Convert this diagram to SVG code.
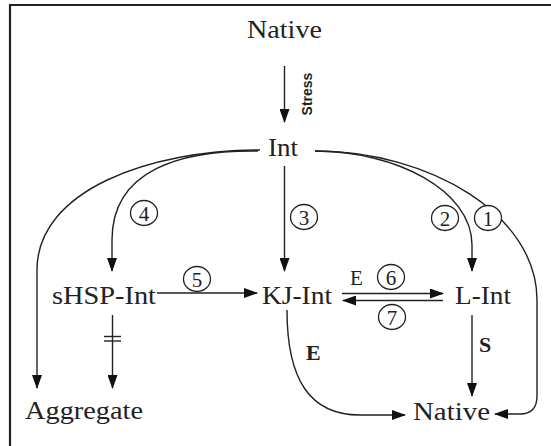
<svg xmlns="http://www.w3.org/2000/svg" width="551" height="446" viewBox="0 0 551 446">
<style>
.node{font-family:"Liberation Serif","Times New Roman",serif;font-size:25px;fill:#222}
.num{font-family:"Liberation Serif","Times New Roman",serif;font-size:21px;fill:#222;text-anchor:middle}
.lbl{font-family:"Liberation Serif","Times New Roman",serif;font-size:21px;fill:#222}
.bold{font-weight:bold;font-size:22px}
.c{fill:none;stroke:#222;stroke-width:1.4}
.ring{fill:#fff;stroke:#222;stroke-width:1.3}
.frame{stroke:#222;stroke-width:2.2}
</style>
<defs>
<marker id="ah" markerUnits="userSpaceOnUse" markerWidth="14" markerHeight="10" refX="13" refY="5" orient="auto" viewBox="0 0 14 10">
<path d="M0,0 L14,5 L0,10 Z" fill="#111"/>
</marker>
</defs>
<rect width="551" height="446" fill="#fff"/>
<line class="frame" x1="9" y1="5" x2="551" y2="5"/>
<line class="frame" x1="10" y1="4" x2="10" y2="446"/>

<g id="connectors">
<line class="c" x1="284.5" y1="66" x2="284.5" y2="122" marker-end="url(#ah)"/>
<text transform="translate(312,94) rotate(-90)" text-anchor="middle" style="font-family:'Liberation Sans',Arial,sans-serif;font-size:14px;font-weight:bold;fill:#222">Stress</text>
<path class="c" d="M260,150 C150,150 37,190 37,270 L37,388" marker-end="url(#ah)"/>
<path class="c" d="M258,151 C180,150 112,170 112,240 L112,271" marker-end="url(#ah)"/>
<line class="c" x1="284.5" y1="166" x2="284.5" y2="271" marker-end="url(#ah)"/>
<path class="c" d="M315,151 C395,151 472,190 472,245 L472,271" marker-end="url(#ah)"/>
<path class="c" d="M315,151 C430,151 537,215 537,300 L537,396 Q537,414 520,414 L495,414" marker-end="url(#ah)"/>
<line class="c" x1="157" y1="293" x2="257" y2="293" marker-end="url(#ah)"/>
<line class="c" x1="342" y1="293.5" x2="443" y2="293.5" marker-end="url(#ah)"/>
<line class="c" x1="443" y1="300.5" x2="343" y2="300.5" marker-end="url(#ah)"/>
<line class="c" x1="112.5" y1="315" x2="112.5" y2="388" marker-end="url(#ah)"/>
<line class="c" x1="104" y1="336.5" x2="121" y2="336.5"/>
<line class="c" x1="104" y1="341" x2="121" y2="341"/>
<line class="c" x1="472" y1="315" x2="472" y2="396" marker-end="url(#ah)"/>
<path class="c" d="M287,310 C287,380 310,415 360,415 L405,415" marker-end="url(#ah)"/>

<ellipse class="ring" cx="144" cy="213" rx="13.5" ry="12.5"/>
<text class="num" x="144" y="220.5">4</text>
<ellipse class="ring" cx="304" cy="217" rx="13.5" ry="12.5"/>
<text class="num" x="304" y="224.5">3</text>
<ellipse class="ring" cx="445" cy="218" rx="13.5" ry="12.5"/>
<text class="num" x="445" y="225.5">2</text>
<ellipse class="ring" cx="488" cy="218" rx="13.5" ry="12.5"/>
<text class="num" x="488" y="225.5">1</text>
<ellipse class="ring" cx="197" cy="279" rx="13.5" ry="12.5"/>
<text class="num" x="197" y="286.5">5</text>
<ellipse class="ring" cx="391" cy="277" rx="13.5" ry="12.5"/>
<text class="num" x="391" y="284.5">6</text>
<ellipse class="ring" cx="392" cy="317" rx="13.5" ry="12.5"/>
<text class="num" x="392" y="324.5">7</text>
<text class="lbl" x="350" y="285">E</text>
<text class="lbl bold" x="306" y="360">E</text>
<text class="lbl bold" x="479" y="352">S</text>
</g>

<g id="native-top"><text class="node" x="247" y="38" textLength="75" lengthAdjust="spacingAndGlyphs">Native</text></g>
<g id="int"><text class="node" x="268" y="156" textLength="30" lengthAdjust="spacingAndGlyphs">Int</text></g>
<g id="shsp-int"><text class="node" x="52" y="304" textLength="104" lengthAdjust="spacingAndGlyphs">sHSP-Int</text></g>
<g id="kj-int"><text class="node" x="262" y="304" textLength="70" lengthAdjust="spacingAndGlyphs">KJ-Int</text></g>
<g id="l-int"><text class="node" x="455" y="304" textLength="56" lengthAdjust="spacingAndGlyphs">L-Int</text></g>
<g id="aggregate"><text class="node" x="25" y="419" textLength="118" lengthAdjust="spacingAndGlyphs">Aggregate</text></g>
<g id="native-bottom"><text class="node" x="413" y="420" textLength="77" lengthAdjust="spacingAndGlyphs">Native</text></g>
</svg>
